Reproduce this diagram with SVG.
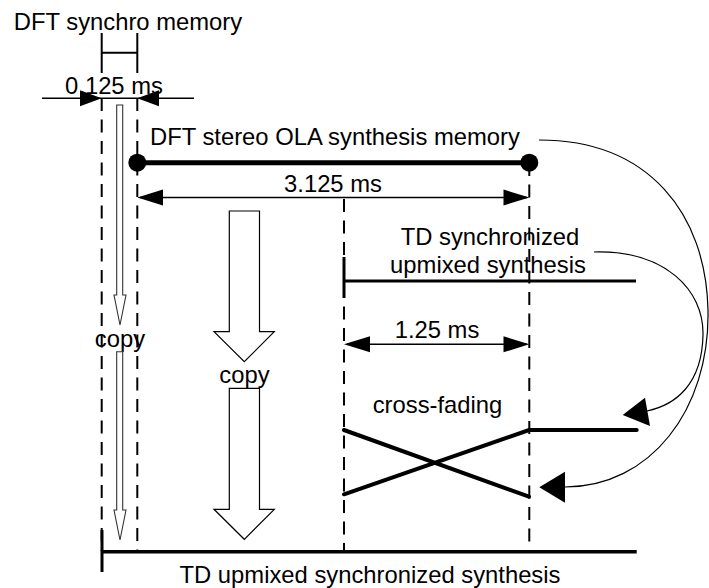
<svg xmlns="http://www.w3.org/2000/svg" width="709" height="588" viewBox="0 0 709 588">
<style>
text{font-family:"Liberation Sans",Arial,sans-serif;font-size:23.8px;fill:#000}
.m{text-anchor:middle}
.dash{stroke:#000;stroke-width:2;stroke-dasharray:13 8.5;fill:none}
.dim{stroke:#000;stroke-width:1.5;fill:none}
.ah{fill:#000;stroke:none}
.thin{fill:#fff;stroke:#333;stroke-width:1.1}
.wide{fill:#fff;stroke:#000;stroke-width:1.2}
.thick{stroke:#000;fill:none}
.curve{stroke:#000;stroke-width:1.2;fill:none}
</style>
<rect width="709" height="588" fill="#fff"/>

<g id="guides">
<line class="dash" x1="101.7" y1="98" x2="101.7" y2="551"/>
<line class="dash" x1="137.3" y1="98" x2="137.3" y2="551"/>
<line class="dash" x1="344" y1="199" x2="344" y2="551"/>
<line class="dash" x1="529.3" y1="163" x2="529.3" y2="551"/>
</g>

<g id="synchro-memory">
<text class="m" x="128" y="29.5">DFT synchro memory</text>
<path class="thick" stroke-width="2" d="M101.7,33V73M137.3,33V73M101.7,52.7H137.3"/>
<line class="dim" x1="42" y1="98.3" x2="194" y2="98.3"/>
<polygon class="ah" points="101.7,98.3 80,90.3 80,106.3"/>
<polygon class="ah" points="137.3,98.3 159,90.3 159,106.3"/>
<text class="m" x="114" y="94">0.125 ms</text>
</g>

<g id="ola-memory">
<text x="150" y="145">DFT stereo OLA synthesis memory</text>
<line class="thick" stroke-width="5" x1="137.3" y1="162.7" x2="529.3" y2="162.7"/>
<circle cx="137.3" cy="162.7" r="9"/>
<circle cx="529.3" cy="162.7" r="9"/>
<line class="dim" x1="140" y1="197.5" x2="527" y2="197.5"/>
<polygon class="ah" points="137.3,197.5 163,189.5 163,205.5"/>
<polygon class="ah" points="529.3,197.5 503.5,189.5 503.5,205.5"/>
<text class="m" x="333" y="191.5">3.125 ms</text>
</g>

<g id="copy-narrow">
<polygon class="thin" points="116.7,105 122.7,105 122.7,295 126,295 120,325 114,295 116.7,295"/>
<text class="m" x="120" y="346.5">copy</text>
<polygon class="thin" points="116.7,351.7 122.7,351.7 122.7,510 126,510 120,540 114,510 116.7,510"/>
</g>

<g id="copy-wide">
<polygon class="wide" points="229.3,211 259.5,211 259.5,331.7 274.3,331.7 244.3,361.7 214,331.7 229.3,331.7"/>
<text class="m" x="244.5" y="382.5">copy</text>
<polygon class="wide" points="229.3,388.3 259.5,388.3 259.5,509.3 274.3,509.3 244.3,539.3 214,509.3 229.3,509.3"/>
</g>

<g id="td-synchronized">
<text class="m" x="490" y="245">TD synchronized</text>
<text class="m" x="488" y="273">upmixed synthesis</text>
<line class="thick" stroke-width="3" x1="344" y1="281" x2="636" y2="281"/>
<line class="thick" stroke-width="3" x1="344" y1="257" x2="344" y2="298"/>
</g>

<g id="crossfade">
<line class="dim" x1="347" y1="344.3" x2="527" y2="344.3"/>
<polygon class="ah" points="344,344.3 370,336.3 370,352.3"/>
<polygon class="ah" points="529.3,344.3 503.5,336.3 503.5,352.3"/>
<text class="m" x="437" y="338">1.25 ms</text>
<text class="m" x="437.5" y="412.5">cross-fading</text>
<path class="thick" stroke-width="4" stroke-linecap="round" d="M344,430L529,496.7M344,494.3L529,430H636.7"/>
</g>

<g id="td-upmixed">
<line class="thick" stroke-width="3.5" x1="102" y1="551.7" x2="636.7" y2="551.7"/>
<line class="thick" stroke-width="3" x1="102" y1="530" x2="102" y2="572"/>
<text class="m" x="370" y="582.5">TD upmixed synchronized synthesis</text>
</g>

<g id="connectors">
<path class="curve" d="M539,140 C650,140 706,215 708,310 C710,410 650,487 565,487"/>
<polygon class="ah" points="539.3,487.3 565,471.7 565,502.7"/>
<path class="curve" d="M594,252 C665,250 704,290 703,335 C702,385 675,405 647,411"/>
<polygon class="ah" points="622.7,415 645,397.7 650,426"/>
</g>
</svg>
